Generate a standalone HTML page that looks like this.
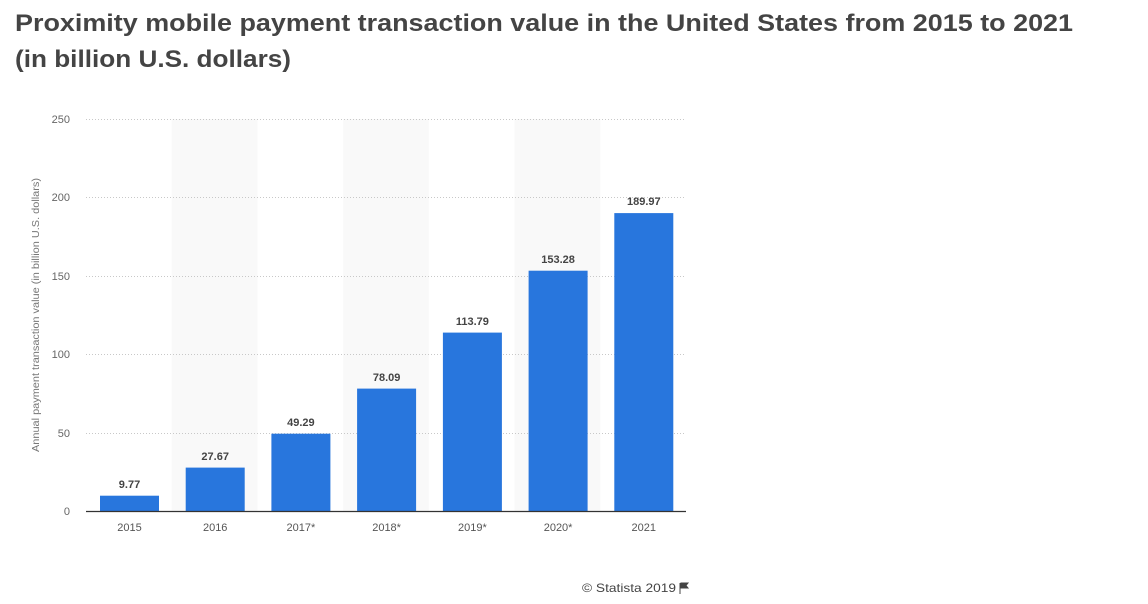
<!DOCTYPE html>
<html><head><meta charset="utf-8"><style>
html,body{margin:0;padding:0;background:#fff;}
svg{display:block;font-family:"Liberation Sans",sans-serif;}
</style></head><body>
<svg width="1148" height="604" xmlns="http://www.w3.org/2000/svg">
<text x="15" y="31" font-size="24" font-weight="bold" fill="#444" textLength="1058" lengthAdjust="spacingAndGlyphs">Proximity mobile payment transaction value in the United States from 2015 to 2021</text>
<text x="15" y="67" font-size="24" font-weight="bold" fill="#444" textLength="276" lengthAdjust="spacingAndGlyphs">(in billion U.S. dollars)</text>
<g fill="#f9f9f9">
<rect x="171.7" y="119" width="85.7" height="392"/>
<rect x="343.1" y="119" width="85.7" height="392"/>
<rect x="514.6" y="119" width="85.7" height="392"/>
</g>
<g stroke="#c8c8c8" stroke-dasharray="1,2" stroke-width="1">
<line x1="86" x2="686" y1="119.5" y2="119.5"/>
<line x1="86" x2="686" y1="197.5" y2="197.5"/>
<line x1="86" x2="686" y1="276.5" y2="276.5"/>
<line x1="86" x2="686" y1="354.5" y2="354.5"/>
<line x1="86" x2="686" y1="433.5" y2="433.5"/>
</g>
<g font-size="11" fill="#666" text-anchor="end">
<text x="70" y="123">250</text><text x="70" y="201">200</text><text x="70" y="280">150</text>
<text x="70" y="358">100</text><text x="70" y="437">50</text><text x="70" y="515">0</text>
</g>
<text transform="translate(39,315) rotate(-90)" font-size="10" fill="#777" text-anchor="middle" textLength="274" lengthAdjust="spacingAndGlyphs">Annual payment transaction value (in billion U.S. dollars)</text>
<g fill="#2876dd">
<rect x="100" y="495.7" width="59" height="15.3"/>
<rect x="185.7" y="467.6" width="59" height="43.4"/>
<rect x="271.4" y="433.7" width="59" height="77.3"/>
<rect x="357.1" y="388.6" width="59" height="122.4"/>
<rect x="442.9" y="332.6" width="59" height="178.4"/>
<rect x="528.6" y="270.7" width="59" height="240.3"/>
<rect x="614.3" y="213.1" width="59" height="297.9"/>
</g>
<line x1="86" x2="686" y1="511.5" y2="511.5" stroke="#333" stroke-width="1.2"/>
<g font-size="11" font-weight="bold" fill="#444" text-anchor="middle">
<text x="129.5" y="488">9.77</text>
<text x="215.2" y="460">27.67</text>
<text x="300.9" y="426">49.29</text>
<text x="386.6" y="381">78.09</text>
<text x="472.4" y="325">113.79</text>
<text x="558.1" y="263">153.28</text>
<text x="643.8" y="205">189.97</text>
</g>
<g font-size="11" fill="#555" text-anchor="middle">
<text x="129.5" y="531">2015</text>
<text x="215.2" y="531">2016</text>
<text x="300.9" y="531">2017*</text>
<text x="386.6" y="531">2018*</text>
<text x="472.4" y="531">2019*</text>
<text x="558.1" y="531">2020*</text>
<text x="643.8" y="531">2021</text>
</g>
<text x="582" y="592" font-size="12" fill="#444" textLength="94" lengthAdjust="spacingAndGlyphs">© Statista 2019</text>
<path d="M680 583 v11 M681 583 h7 l-2 2.5 l2 2.5 h-7z" stroke="#444" fill="#444" stroke-width="1"/>
</svg>
</body></html>
